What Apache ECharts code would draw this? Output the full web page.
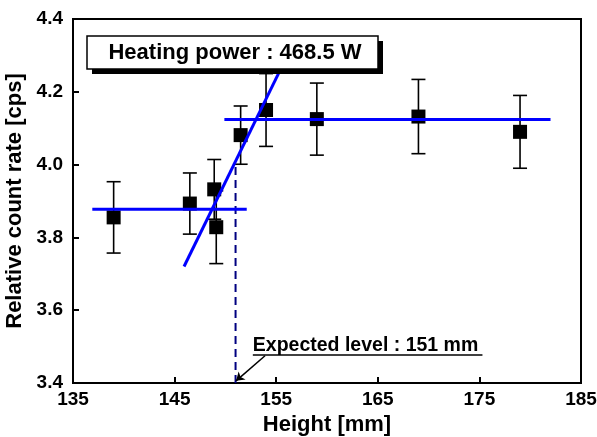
<!DOCTYPE html>
<html>
<head>
<meta charset="utf-8">
<script src="https://cdn.jsdelivr.net/npm/echarts@6/dist/echarts.min.js"></script>
<style>
  html, body { margin: 0; padding: 0; background: #fff; }
  #chart { width: 597px; height: 437px; }
</style>
</head>
<body>
<div id="chart"></div>
<script>
// measured points: height [mm], count rate [cps], error [cps]
const heights = [139, 146.5, 148.9, 149.1, 151.5, 154, 159, 169, 179];
const rates = [3.855, 3.893, 3.932, 3.828, 4.081, 4.15, 4.125, 4.132, 4.09];
const errors = [0.098, 0.084, 0.082, 0.1, 0.08, 0.1, 0.099, 0.102, 0.1];

// fitted lines
const lowFit = [[136.9, 3.877], [152.1, 3.877]];
const highFit = [[149.9, 4.124], [182.0, 4.124]];
const slopeFit = [[145.93, 3.72], [155.75, 4.28]];
const expected = [[151, 3.4], [151, 3.995]];

// annotation anchor
const noteUnderline = [[152.7, 3.477], [175.3, 3.477]];
const noteArrow = [[153.9, 3.475], [151.05, 3.406]];

const xTicks = [135, 185, 10];
const yTicks = [3.4, 4.4, 0.2];

const FONT = '"Liberation Sans", Arial, sans-serif';

const chart = echarts.init(document.getElementById('chart'), null, { renderer: 'canvas' });

const points = heights.map((h, i) => [h, rates[i]]);
const bars = heights.map((h, i) => [h, rates[i] - errors[i], rates[i] + errors[i]]);

const option = {
  animation: false,
  grid: { left: 73, right: 16, top: 19, bottom: 54, show: true, borderColor: '#000', borderWidth: 2,
    containLabel: false, outerBoundsMode: 'none' },
  xAxis: {
    type: 'value', min: xTicks[0], max: xTicks[1], interval: xTicks[2],
    name: 'Height [mm]', nameLocation: 'middle', nameGap: 30,
    nameTextStyle: { fontFamily: FONT, fontWeight: 'bold', fontSize: 22, color: '#000' },
    axisLine: { lineStyle: { color: '#000', width: 2 } },
    axisTick: { inside: true, length: 6, lineStyle: { color: '#000', width: 2 } },
    axisLabel: { fontFamily: FONT, fontWeight: 'bold', fontSize: 19, color: '#000', margin: 7,
      hideOverlap: false },
    splitLine: { show: false }
  },
  yAxis: {
    type: 'value', min: yTicks[0], max: yTicks[1], interval: yTicks[2],
    name: 'Relative count rate [cps]', nameLocation: 'middle', nameGap: 41,
    nameTextStyle: { fontFamily: FONT, fontWeight: 'bold', fontSize: 22, color: '#000' },
    axisLine: { lineStyle: { color: '#000', width: 2 } },
    axisTick: { inside: true, length: 6, lineStyle: { color: '#000', width: 2 } },
    axisLabel: { fontFamily: FONT, fontWeight: 'bold', fontSize: 19, color: '#000', margin: 10,
      formatter: v => v.toFixed(1) },
    splitLine: { show: false }
  },
  series: [
    {
      type: 'custom',
      data: bars,
      z: 3,
      renderItem: (params, api) => {
        const top = api.coord([api.value(0), api.value(2)]);
        const bot = api.coord([api.value(0), api.value(1)]);
        const cap = 7;
        const style = { stroke: '#000', lineWidth: 1.6 };
        return {
          type: 'group',
          children: [
            { type: 'line', shape: { x1: top[0], y1: top[1], x2: bot[0], y2: bot[1] }, style },
            { type: 'line', shape: { x1: top[0] - cap, y1: top[1], x2: top[0] + cap, y2: top[1] }, style },
            { type: 'line', shape: { x1: bot[0] - cap, y1: bot[1], x2: bot[0] + cap, y2: bot[1] }, style }
          ]
        };
      }
    },
    {
      type: 'scatter', data: points, symbol: 'rect', symbolSize: 14, z: 4,
      itemStyle: { color: '#000', opacity: 1 }
    },
    { type: 'line', data: lowFit, symbol: 'none', z: 5, lineStyle: { color: '#0000ff', width: 3 } },
    { type: 'line', data: highFit, symbol: 'none', z: 5, lineStyle: { color: '#0000ff', width: 3 } },
    { type: 'line', data: slopeFit, symbol: 'none', z: 5, lineStyle: { color: '#0000ff', width: 3 } },
    { type: 'line', data: expected, symbol: 'none', z: 2,
      lineStyle: { color: '#000080', width: 2, type: [8, 5] } },
    { type: 'line', data: noteUnderline, symbol: 'none', z: 5,
      lineStyle: { color: '#000', width: 1.5 },
      markLine: {
        silent: true, symbol: ['none', 'arrow'], symbolSize: 8, label: { show: false },
        lineStyle: { color: '#000', width: 1.5, type: 'solid' },
        data: [[{ coord: noteArrow[0] }, { coord: noteArrow[1] }]]
      }
    }
  ]
};

chart.setOption(option);

// text annotations placed from data coordinates
const notePos = chart.convertToPixel({ gridIndex: 0 }, noteUnderline[0]);
chart.setOption({
  graphic: [
    { type: 'rect', shape: { x: 92, y: 41, width: 291, height: 33 }, style: { fill: '#000' }, z: 10 },
    { type: 'rect', shape: { x: 87, y: 36, width: 291, height: 33 },
      style: { fill: '#fff', stroke: '#000', lineWidth: 1.5 }, z: 11 },
    { type: 'text', x: 235, y: 53, z: 12,
      style: { text: 'Heating power : 468.5 W', font: 'bold 22px ' + FONT, fill: '#000',
        align: 'center', verticalAlign: 'middle' } },
    { type: 'text', x: notePos[0], y: notePos[1] + 1, z: 12,
      style: { text: 'Expected level : 151 mm', font: 'bold 19.5px ' + FONT, fill: '#000',
        align: 'left', verticalAlign: 'bottom' } }
  ]
});
</script>
</body>
</html>
